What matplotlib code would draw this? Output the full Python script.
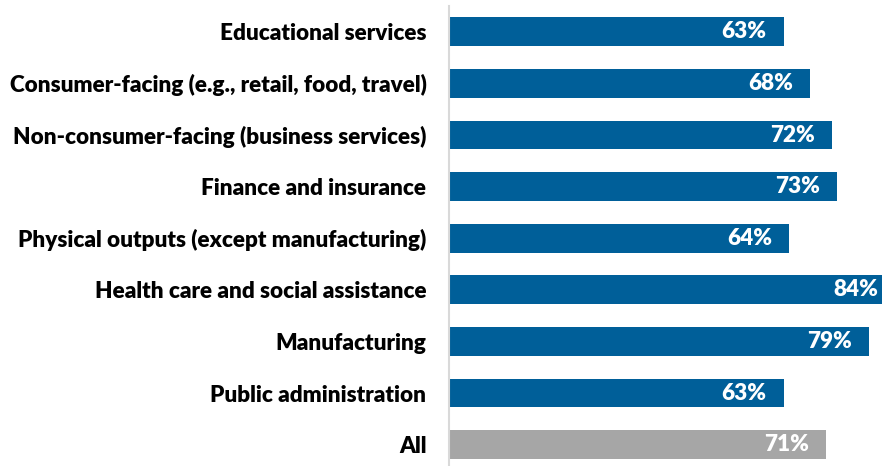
import matplotlib
matplotlib.use("Agg")
import matplotlib.pyplot as plt

# industry shares, top to bottom
categories = [
    "Educational services",
    "Consumer-facing (e.g., retail, food, travel)",
    "Non-consumer-facing (business services)",
    "Finance and insurance",
    "Physical outputs (except manufacturing)",
    "Health care and social assistance",
    "Manufacturing",
    "Public administration",
    "All",
]
values = [63, 68, 72, 73, 64, 84, 79, 63, 71]

blue = "#005F99"
grey = "#A6A6A6"
colors = [blue] * (len(values) - 1) + [grey]

plt.rcParams["font.family"] = ["Lato", "DejaVu Sans"]

W, H = 882, 466
fig = plt.figure(figsize=(W / 100, H / 100), dpi=100)

x0 = 449.3          # left edge of the bars, px
px_per_pct = 5.31   # bar scale
pitch = 51.6        # row spacing, px
top = 6.0           # top of the axis line, px

ax_h = pitch * len(categories)
ax = fig.add_axes([x0 / W, 1 - (top + ax_h) / H, (W - x0) / W, ax_h / H])

ypos = list(range(len(categories)))
ax.barh(ypos, values, height=0.56, color=colors, zorder=2)

ax.set_xlim(0, (W - x0) / px_per_pct)
ax.set_ylim(len(categories) - 0.5, -0.5)

ax.set_yticks(ypos)
ax.set_yticklabels(categories, fontsize=16.2, fontweight="heavy", color="#000000")
ax.tick_params(axis="y", length=0, pad=16.5)
ax.set_xticks([])

for s in ["top", "right", "bottom"]:
    ax.spines[s].set_visible(False)
ax.spines["left"].set_color("#D9D9D9")
ax.spines["left"].set_linewidth(1.5)

# value labels inside the bar ends
for y, v in zip(ypos, values):
    ax.annotate(f"{v}%", xy=(v, y), xytext=(-12.3, 0), textcoords="offset points",
                ha="right", va="center", color="white", fontsize=16.2,
                fontweight="heavy", zorder=3, annotation_clip=False)

fig.savefig("out.png", dpi=100)
